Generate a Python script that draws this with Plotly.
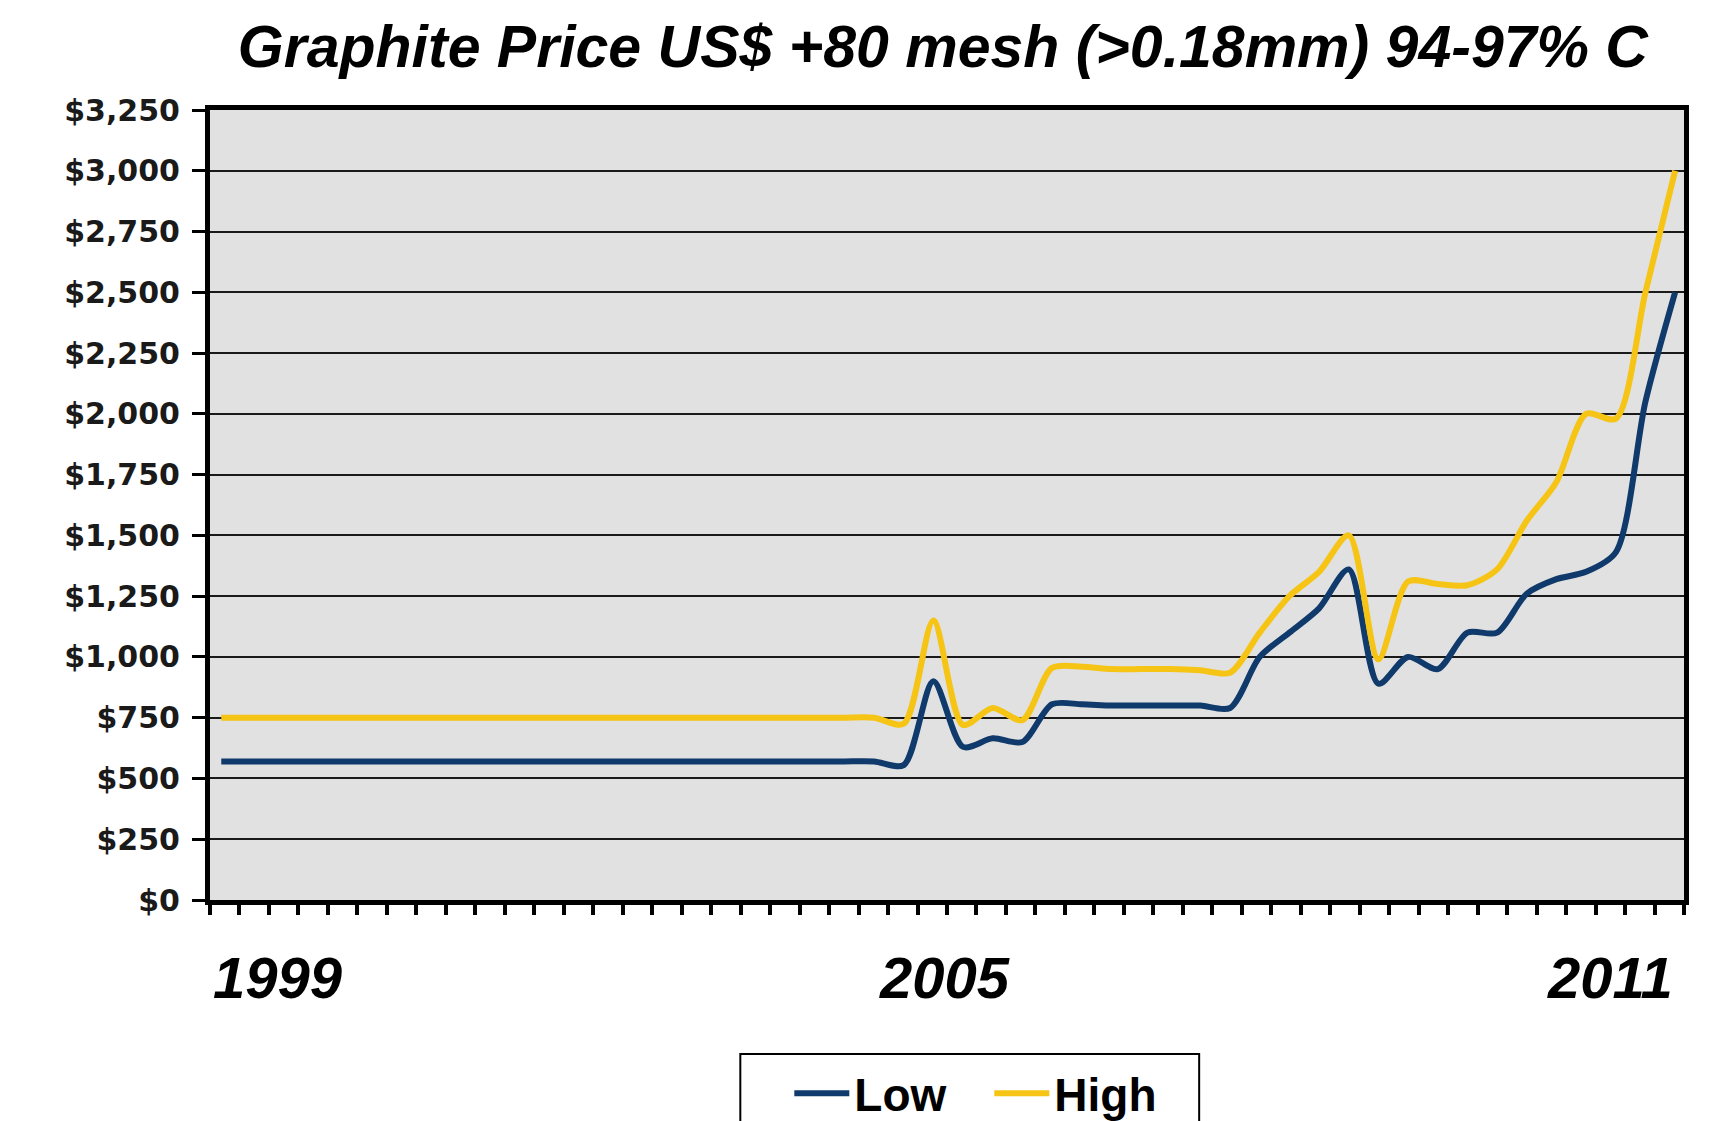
import plotly.graph_objects as go

# ---- data (quarterly, 1999 Q1 .. 2011 Q2) ----
quarters = [f"{y} Q{q}" for y in range(1999, 2012) for q in range(1, 5)][:50]

low = [570, 570, 570, 570, 570, 570, 570, 570, 570, 570,
       570, 570, 570, 570, 570, 570, 570, 570, 570, 570,
       570, 570, 570, 555, 900, 630, 665, 650, 805, 805,
       800, 800, 800, 800, 790, 1000, 1100, 1200, 1360, 890,
       1000, 950, 1100, 1100, 1260, 1320, 1350, 1430, 2050, 2500]

high = [750, 750, 750, 750, 750, 750, 750, 750, 750, 750,
        750, 750, 750, 750, 750, 750, 750, 750, 750, 750,
        750, 750, 750, 725, 1150, 720, 790, 740, 955, 960,
        950, 950, 950, 945, 935, 1100, 1250, 1350, 1500, 990,
        1310, 1300, 1295, 1360, 1560, 1720, 2000, 1980, 2500, 3000]

year_labels = ["1999", "2005", "2011"]
year_label_pos = [1.9, 24.36, 46.8]

y_max = 3250
y_step = 250

# ---- geometry ----
W, H = 1717, 1121
ML, MR, MT, MB = 201.5, 41, 101.5, 229
PW, PH = W - ML - MR, H - MT - MB
PB = H - MB
X0, X1 = -0.38, 49.3   # x range (category index units)
N_TICK_INTERVALS = 50


def px_x(x):
    return (x - ML) / PW


def px_y(y):
    return (PB - y) / PH


# ---- figure ----
idx = list(range(len(quarters)))
fig = go.Figure()
fig.add_trace(go.Scatter(x=idx, y=low, name="Low", mode="lines",
                         customdata=quarters, hovertemplate="%{customdata}: $%{y:,}<extra>Low</extra>",
                         line=dict(color="#0f3a6b", width=6, shape="spline", smoothing=0.8)))
fig.add_trace(go.Scatter(x=idx, y=high, name="High", mode="lines",
                         customdata=quarters, hovertemplate="%{customdata}: $%{y:,}<extra>High</extra>",
                         line=dict(color="#f6c414", width=6, shape="spline", smoothing=0.8)))

tick_positions = [X0 + k * (X1 - X0) / N_TICK_INTERVALS for k in range(N_TICK_INTERVALS + 1)]

fig.update_layout(
    width=W, height=H,
    margin=dict(l=ML, r=MR, t=MT, b=MB, autoexpand=False),
    paper_bgcolor="white",
    plot_bgcolor="#e1e1e1",
    title=dict(text="Graphite Price US$ +80 mesh (>0.18mm) 94-97% C",
               x=0.5445, xref="container", xanchor="center",
               y=1 - 38 / H, yref="container", yanchor="middle",
               font=dict(family="Liberation Sans, Arial, sans-serif", size=59,
                         color="black", weight="bold", style="italic")),
    xaxis=dict(range=[X0, X1], showgrid=False, zeroline=False,
               tickmode="array", tickvals=tick_positions, showticklabels=False,
               ticks="outside", ticklen=10, tickwidth=4, tickcolor="black",
               showline=True, linecolor="black", linewidth=5, mirror=True),
    yaxis=dict(range=[0, y_max], dtick=y_step, tick0=0, tickprefix="$", tickformat=",d",
               showgrid=True, gridcolor="#1a1a1a", gridwidth=1.6, zeroline=False,
               ticks="outside", ticklen=13, tickwidth=3, tickcolor="black",
               ticklabelstandoff=6,
               showline=True, linecolor="black", linewidth=5, mirror=True,
               tickfont=dict(family="DejaVu Sans, sans-serif", size=30,
                             color="#1a1a1a", weight="bold")),
    legend=dict(orientation="h", x=px_x(781), xanchor="left", y=px_y(1049), yanchor="top",
                bgcolor="rgba(0,0,0,0)", borderwidth=0,
                itemwidth=55,
                entrywidth=130, entrywidthmode="pixels",
                font=dict(family="Liberation Sans, Arial, sans-serif", size=46,
                          color="black", weight="bold")),
    showlegend=True,
)

# legend frame
fig.add_shape(type="rect", xref="paper", yref="paper",
              x0=px_x(732), x1=px_x(1191),
              y0=px_y(1135), y1=px_y(1046),
              line=dict(color="black", width=2), fillcolor="white", layer="below")

for lab, pos in zip(year_labels, year_label_pos):
    fig.add_annotation(text=lab, x=pos, xref="x", y=px_y(970), yref="paper",
                       yanchor="middle", xanchor="center", showarrow=False,
                       font=dict(family="Liberation Sans, Arial, sans-serif", size=58,
                                 color="black", weight="bold", style="italic"))

fig.write_html("out.html")
